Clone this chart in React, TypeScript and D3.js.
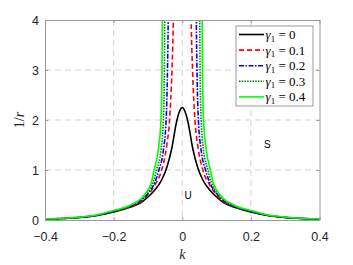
import React, { useEffect, useRef } from 'react';
import * as d3 from 'd3';

// curves: [k, 1/r]
const gamma0: [number, number][] = [
  [-0.4, 0.02], [-0.35, 0.03], [-0.3, 0.05], [-0.25, 0.09], [-0.2, 0.16], [-0.15, 0.26],
  [-0.12, 0.35], [-0.1, 0.46], [-0.08, 0.6], [-0.06, 0.8], [-0.045, 1.05], [-0.03, 1.45],
  [-0.017, 1.95], [-0.008, 2.17], [0, 2.25], [0.008, 2.17], [0.017, 1.95], [0.03, 1.45],
  [0.045, 1.05], [0.06, 0.8], [0.08, 0.6], [0.1, 0.46], [0.12, 0.35], [0.15, 0.26],
  [0.2, 0.16], [0.25, 0.09], [0.3, 0.05], [0.35, 0.03], [0.4, 0.02],
];
const gamma01: [number, number][] = [
  [-0.4, 0.02], [-0.35, 0.03], [-0.3, 0.05], [-0.25, 0.09], [-0.2, 0.17], [-0.15, 0.27],
  [-0.12, 0.37], [-0.1, 0.5], [-0.08, 0.7], [-0.06, 1.0], [-0.045, 1.5], [-0.037, 2.0],
  [-0.03, 3.0], [-0.026, 4.0], [-0.024, 5.0], [0.024, 5.0], [0.026, 4.0], [0.03, 3.0],
  [0.037, 2.0], [0.045, 1.5], [0.06, 1.0], [0.08, 0.7], [0.1, 0.5], [0.12, 0.37],
  [0.15, 0.27], [0.2, 0.17], [0.25, 0.09], [0.3, 0.05], [0.35, 0.03], [0.4, 0.02],
];
const gamma02: [number, number][] = [
  [-0.4, 0.02], [-0.35, 0.03], [-0.3, 0.05], [-0.25, 0.09], [-0.2, 0.17], [-0.15, 0.28],
  [-0.12, 0.39], [-0.1, 0.53], [-0.08, 0.75], [-0.068, 1.0], [-0.055, 1.4], [-0.047, 2.0],
  [-0.043, 3.0], [-0.041, 4.0], [-0.04, 5.0], [0.04, 5.0], [0.041, 4.0], [0.043, 3.0],
  [0.047, 2.0], [0.055, 1.4], [0.068, 1.0], [0.08, 0.75], [0.1, 0.53], [0.12, 0.39],
  [0.15, 0.28], [0.2, 0.17], [0.25, 0.09], [0.3, 0.05], [0.35, 0.03], [0.4, 0.02],
];
const gamma03: [number, number][] = [
  [-0.4, 0.02], [-0.35, 0.03], [-0.3, 0.055], [-0.25, 0.095], [-0.2, 0.18], [-0.15, 0.29],
  [-0.12, 0.41], [-0.1, 0.56], [-0.085, 0.75], [-0.075, 1.0], [-0.062, 1.4], [-0.055, 2.0],
  [-0.052, 3.0], [-0.051, 4.0], [-0.05, 5.0], [0.05, 5.0], [0.051, 4.0], [0.052, 3.0],
  [0.055, 2.0], [0.062, 1.4], [0.075, 1.0], [0.085, 0.75], [0.1, 0.56], [0.12, 0.41],
  [0.15, 0.29], [0.2, 0.18], [0.25, 0.095], [0.3, 0.055], [0.35, 0.03], [0.4, 0.02],
];
const gamma04: [number, number][] = [
  [-0.4, 0.025], [-0.35, 0.035], [-0.3, 0.06], [-0.25, 0.1], [-0.2, 0.19], [-0.15, 0.3],
  [-0.12, 0.43], [-0.1, 0.6], [-0.09, 0.75], [-0.082, 1.0], [-0.07, 1.4], [-0.062, 2.0],
  [-0.059, 3.0], [-0.058, 4.0], [-0.057, 5.0], [0.057, 5.0], [0.058, 4.0], [0.059, 3.0],
  [0.062, 2.0], [0.07, 1.4], [0.082, 1.0], [0.09, 0.75], [0.1, 0.6], [0.12, 0.43],
  [0.15, 0.3], [0.2, 0.19], [0.25, 0.1], [0.3, 0.06], [0.35, 0.035], [0.4, 0.025],
];

const gammaLabels = ['0', '0.1', '0.2', '0.3', '0.4'];
const xTicks = [-0.4, -0.2, 0, 0.2, 0.4];
const yTicks = [0, 1, 2, 3, 4];

const series = [
  { data: gamma0, color: '#000000', dash: null },
  { data: gamma01, color: '#ff0000', dash: '5,3' },
  { data: gamma02, color: '#0000ff', dash: '5,1.5,1.5,1.5' },
  { data: gamma03, color: '#008000', dash: '1.5,1.2' },
  { data: gamma04, color: '#00ff00', dash: null },
];

const App = () => {
  const svgRef = useRef<SVGSVGElement>(null);

  useEffect(() => {
    const width = 353;
    const height = 265;
    const margin = { top: 20, right: 33.5, bottom: 45, left: 45 };
    const iw = width - margin.left - margin.right;
    const ih = height - margin.top - margin.bottom;

    svgRef.current!.innerHTML = '';

    const svg = d3.select(svgRef.current)
      .attr('width', width)
      .attr('height', height);

    const g = svg.append('g')
      .attr('transform', `translate(${margin.left},${margin.top})`);

    const x = d3.scaleLinear().domain([-0.4, 0.4]).range([0, iw]);
    const y = d3.scaleLinear().domain([0, 4]).range([ih, 0]);

    svg.append('defs').append('clipPath').attr('id', 'plotclip')
      .append('rect').attr('width', iw).attr('height', ih);

    // grid
    const grid = g.append('g')
      .attr('stroke', '#d4d4d4')
      .attr('stroke-dasharray', '6,4')
      .attr('stroke-width', 1);
    grid.selectAll('.gx').data(xTicks.slice(1, -1)).enter().append('line')
      .attr('x1', d => x(d)).attr('x2', d => x(d))
      .attr('y1', 0).attr('y2', ih);
    grid.selectAll('.gy').data(yTicks.slice(1, -1)).enter().append('line')
      .attr('x1', 0).attr('x2', iw)
      .attr('y1', d => y(d)).attr('y2', d => y(d));

    // curves
    const line = d3.line<[number, number]>()
      .x(d => x(d[0]))
      .y(d => y(d[1]))
      .curve(d3.curveMonotoneX);

    const curves = g.append('g').attr('clip-path', 'url(#plotclip)');
    series.forEach(s => {
      curves.append('path')
        .attr('d', line(s.data))
        .attr('fill', 'none')
        .attr('stroke', s.color)
        .attr('stroke-width', 1.6)
        .attr('stroke-dasharray', s.dash)
        .attr('stroke-linejoin', 'round');
    });

    // axes
    const tickFont = '"Liberation Sans", Arial, sans-serif';
    const xAxis = g.append('g')
      .attr('transform', `translate(0,${ih})`)
      .call(d3.axisBottom(x).tickValues(xTicks).tickSizeInner(-3).tickSizeOuter(0)
        .tickFormat(d => (d === 0 ? '0' : d3.format('.1f')(d as number))));
    const xTop = g.append('g')
      .call(d3.axisTop(x).tickValues(xTicks).tickSizeInner(-3).tickSizeOuter(0).tickFormat(() => ''));
    const yAxis = g.append('g')
      .call(d3.axisLeft(y).tickValues(yTicks).tickSizeInner(-3).tickSizeOuter(0)
        .tickFormat(d => String(d)));
    const yRight = g.append('g')
      .attr('transform', `translate(${iw},0)`)
      .call(d3.axisRight(y).tickValues(yTicks).tickSizeInner(-3).tickSizeOuter(0).tickFormat(() => ''));

    [xAxis, xTop, yAxis, yRight].forEach(a => {
      a.select('.domain').attr('stroke', '#9a9a9a');
      a.selectAll('.tick line').attr('stroke', '#9a9a9a');
      a.selectAll('.tick text')
        .attr('fill', '#262626')
        .style('font-family', tickFont)
        .style('font-size', '12.5px');
    });
    xAxis.selectAll('.tick text').attr('dy', '0.71em').attr('y', 12);
    yAxis.selectAll('.tick text').attr('x', -6);

    // axis labels
    g.append('text')
      .attr('x', iw / 2)
      .attr('y', ih + 39)
      .attr('text-anchor', 'middle')
      .style('font-family', '"Liberation Serif", "DejaVu Serif", serif')
      .style('font-style', 'italic')
      .style('font-size', '14px')
      .attr('fill', '#262626')
      .text('k');

    const yl = g.append('text')
      .attr('transform', `translate(-21,${ih / 2}) rotate(-90)`)
      .attr('text-anchor', 'middle')
      .style('font-family', '"Liberation Serif", "DejaVu Serif", serif')
      .style('font-size', '14px')
      .attr('fill', '#262626');
    yl.append('tspan').text('1/');
    yl.append('tspan').style('font-style', 'italic').text('r');

    // region markers
    g.append('text')
      .attr('x', x(0.017)).attr('y', y(0.43))
      .attr('text-anchor', 'middle')
      .style('font-family', tickFont).style('font-size', '10px')
      .attr('fill', '#000').text('U');
    g.append('text')
      .attr('x', x(0.248)).attr('y', y(1.45))
      .attr('text-anchor', 'middle')
      .style('font-family', tickFont).style('font-size', '10px')
      .attr('fill', '#000').text('S');

    // legend
    const lg = svg.append('g').attr('transform', 'translate(236,26)');
    lg.append('rect')
      .attr('width', 77).attr('height', 80)
      .attr('fill', '#fff').attr('stroke', '#9a9a9a').attr('stroke-width', 1);
    series.forEach((s, i) => {
      const row = lg.append('g').attr('transform', `translate(0,${8.5 + i * 15.6})`);
      row.append('line')
        .attr('x1', 3).attr('x2', 28)
        .attr('stroke', s.color)
        .attr('stroke-width', 1.6)
        .attr('stroke-dasharray', s.dash);
      const t = row.append('text')
        .attr('x', 29.5).attr('y', 4.5)
        .style('font-family', '"Liberation Serif", "DejaVu Serif", serif')
        .style('font-size', '13px')
        .attr('fill', '#000');
      t.append('tspan').style('font-style', 'italic').text('γ');
      t.append('tspan').attr('dy', 2.5).style('font-size', '9px').text('1');
      t.append('tspan').attr('dy', -2.5).text(` = ${gammaLabels[i]}`);
    });
  }, []);

  return (
    <svg ref={svgRef} style={{ position: 'absolute', left: 0, top: 0, display: 'block' }}></svg>
  );
};

export default App;
